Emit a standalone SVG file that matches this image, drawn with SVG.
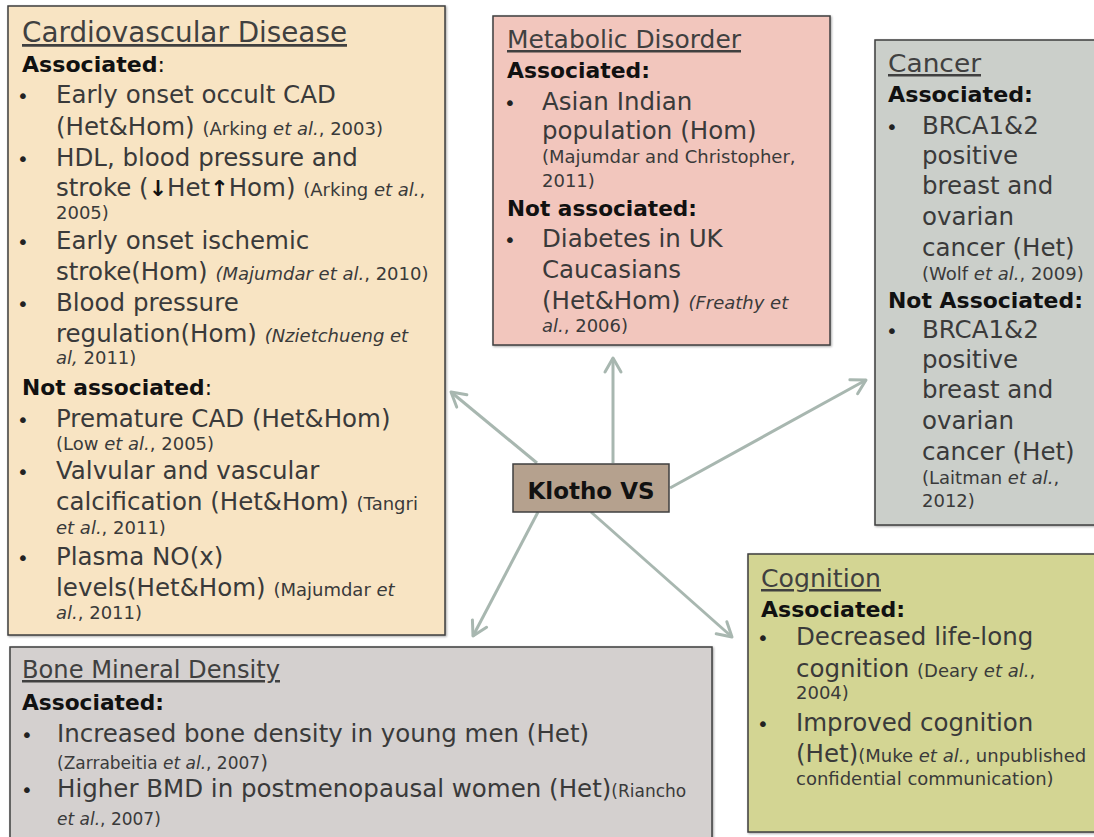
<svg xmlns="http://www.w3.org/2000/svg" width="1094" height="837" viewBox="0 0 1094 837">
<defs>
<filter id="sh" x="-5%" y="-5%" width="110%" height="110%">
<feDropShadow dx="1" dy="1" stdDeviation="1" flood-color="#000" flood-opacity="0.35"/>
</filter>
<marker id="ah" markerUnits="userSpaceOnUse" markerWidth="22" markerHeight="22" viewBox="0 0 22 22" refX="19" refY="11" orient="auto">
<path d="M5,3 L19,11 L5,19" fill="none" stroke="#A8B7B0" stroke-width="3" stroke-linecap="round" stroke-linejoin="round"/>
</marker>
</defs>
<style>
text{font-family:"DejaVu Sans","Liberation Sans",sans-serif;fill:#3a3a3a}
.box{stroke:#3f3f3f;stroke-width:1.5;filter:url(#sh)}
.t{font-size:24.5px}
.h{font-size:25px;text-decoration:underline;fill:#404040}
.b{font-size:21.5px;font-weight:bold;fill:#111}
.n{font-weight:normal}
.c{font-size:18px}
.cs{font-size:17px}
.i{font-style:italic}
.bu{font-size:20px;fill:#222}
.ar{font-weight:bold;font-size:22px;fill:#111}
.k{font-size:23px;font-weight:bold;fill:#111}
.con line{stroke:#A8B7B0;stroke-width:3;marker-end:url(#ah)}
</style>

<g id="connectors" class="con">
<line x1="613" y1="463" x2="613" y2="358"/>
<line x1="537" y1="463" x2="451" y2="392"/>
<line x1="670" y1="488" x2="866" y2="380"/>
<line x1="538" y1="512" x2="473" y2="636"/>
<line x1="591" y1="512" x2="732" y2="637"/>
</g>

<g id="cardiovascular">
<rect class="box" x="8" y="6" width="437" height="629" fill="#F8E4C3"/>
<text class="h" x="22" y="42" textLength="325" lengthAdjust="spacingAndGlyphs" style="font-size:27.5px">Cardiovascular Disease</text>
<text class="b" x="22" y="72" textLength="143" lengthAdjust="spacingAndGlyphs">Associated<tspan class="n">:</tspan></text>
<text class="bu" x="17" y="103">•</text>
<text class="t" x="56" y="103">Early onset occult CAD</text>
<text class="t" x="56" y="135">(Het&amp;Hom) <tspan class="c">(Arking <tspan class="i">et al.</tspan>, 2003)</tspan></text>
<text class="bu" x="17" y="166">•</text>
<text class="t" x="56" y="166">HDL, blood pressure and</text>
<text class="t" x="56" y="196">stroke (<tspan class="ar">↓</tspan>Het<tspan class="ar">↑</tspan>Hom) <tspan class="c">(Arking <tspan class="i">et al.</tspan>,</tspan></text>
<text class="c" x="56" y="219">2005)</text>
<text class="bu" x="17" y="249">•</text>
<text class="t" x="56" y="249">Early onset ischemic</text>
<text class="t" x="56" y="280">stroke(Hom) <tspan class="c i">(Majumdar et al.<tspan style="font-style:normal">, 2010)</tspan></tspan></text>
<text class="bu" x="17" y="311">•</text>
<text class="t" x="56" y="311">Blood pressure</text>
<text class="t" x="56" y="342">regulation(Hom) <tspan class="c i">(Nzietchueng et</tspan></text>
<text class="c" x="56" y="364"><tspan class="i">al,</tspan> 2011)</text>
<text class="b" x="22" y="395" textLength="190" lengthAdjust="spacingAndGlyphs">Not associated<tspan class="n">:</tspan></text>
<text class="bu" x="17" y="427">•</text>
<text class="t" x="56" y="427">Premature CAD (Het&amp;Hom)</text>
<text class="c" x="56" y="450">(Low <tspan class="i">et al.</tspan>, 2005)</text>
<text class="bu" x="17" y="479">•</text>
<text class="t" x="56" y="479">Valvular and vascular</text>
<text class="t" x="56" y="510">calcification (Het&amp;Hom) <tspan class="c">(Tangri</tspan></text>
<text class="c" x="56" y="534"><tspan class="i">et al.</tspan>, 2011)</text>
<text class="bu" x="17" y="565">•</text>
<text class="t" x="56" y="565">Plasma NO(x)</text>
<text class="t" x="56" y="596">levels(Het&amp;Hom)  <tspan class="c">(Majumdar <tspan class="i">et</tspan></tspan></text>
<text class="c" x="56" y="619"><tspan class="i">al.</tspan>, 2011)</text>
</g>

<g id="metabolic">
<rect class="box" x="493" y="16" width="337" height="329" fill="#F2C6BD"/>
<text class="h" x="507" y="48" textLength="234" lengthAdjust="spacingAndGlyphs">Metabolic Disorder</text>
<text class="b" x="507" y="78" textLength="143" lengthAdjust="spacingAndGlyphs">Associated:</text>
<text class="bu" x="504" y="110">•</text>
<text class="t" x="542" y="110">Asian Indian</text>
<text class="t" x="542" y="139">population (Hom)</text>
<text class="c" x="542" y="163">(Majumdar and Christopher,</text>
<text class="c" x="542" y="187">2011)</text>
<text class="b" x="507" y="216" textLength="190" lengthAdjust="spacingAndGlyphs">Not associated:</text>
<text class="bu" x="504" y="247">•</text>
<text class="t" x="542" y="247">Diabetes in UK</text>
<text class="t" x="542" y="278">Caucasians</text>
<text class="t" x="542" y="309">(Het&amp;Hom) <tspan class="c i">(Freathy et</tspan></text>
<text class="c" x="542" y="332"><tspan class="i">al.</tspan>, 2006)</text>
</g>

<g id="cancer">
<rect class="box" x="875" y="40" width="240" height="485" fill="#CBCFCA"/>
<text class="h" x="888" y="72" textLength="93" lengthAdjust="spacingAndGlyphs">Cancer</text>
<text class="b" x="888" y="102" textLength="145" lengthAdjust="spacingAndGlyphs">Associated:</text>
<text class="bu" x="886" y="134">•</text>
<text class="t" x="922" y="134">BRCA1&amp;2</text>
<text class="t" x="922" y="164">positive</text>
<text class="t" x="922" y="194">breast and</text>
<text class="t" x="922" y="225">ovarian</text>
<text class="t" x="922" y="256">cancer (Het)</text>
<text class="c" x="922" y="280">(Wolf <tspan class="i">et al.</tspan>, 2009)</text>
<text class="b" x="888" y="308" textLength="195" lengthAdjust="spacingAndGlyphs">Not Associated:</text>
<text class="bu" x="886" y="338">•</text>
<text class="t" x="922" y="338">BRCA1&amp;2</text>
<text class="t" x="922" y="368">positive</text>
<text class="t" x="922" y="398">breast and</text>
<text class="t" x="922" y="429">ovarian</text>
<text class="t" x="922" y="460">cancer (Het)</text>
<text class="c" x="922" y="484">(Laitman <tspan class="i">et al.</tspan>,</text>
<text class="c" x="922" y="507">2012)</text>
</g>

<g id="bone">
<rect class="box" x="10" y="647" width="702" height="200" fill="#D4D0CF"/>
<text class="h" x="22" y="678" textLength="258" lengthAdjust="spacingAndGlyphs">Bone Mineral Density</text>
<text class="b" x="22" y="710" textLength="142" lengthAdjust="spacingAndGlyphs">Associated:</text>
<text class="bu" x="21" y="742">•</text>
<text class="t" x="57" y="742">Increased bone density in young men (Het)</text>
<text class="cs" x="57" y="769">(Zarrabeitia <tspan class="i">et al.</tspan>, 2007<tspan style="font-size:20px">)</tspan></text>
<text class="bu" x="21" y="797">•</text>
<text class="t" x="57" y="797">Higher BMD in postmenopausal women (Het)<tspan class="cs">(Riancho</tspan></text>
<text class="cs" x="57" y="825"><tspan class="i">et al.</tspan>, 2007)</text>
</g>

<g id="cognition">
<rect class="box" x="748" y="554" width="360" height="278" fill="#D3D593"/>
<text class="h" x="761" y="587" textLength="120" lengthAdjust="spacingAndGlyphs">Cognition</text>
<text class="b" x="761" y="617" textLength="144" lengthAdjust="spacingAndGlyphs">Associated:</text>
<text class="bu" x="757" y="645">•</text>
<text class="t" x="796" y="645">Decreased life-long</text>
<text class="t" x="796" y="677">cognition <tspan class="c">(Deary <tspan class="i">et al.</tspan>,</tspan></text>
<text class="c" x="796" y="699">2004)</text>
<text class="bu" x="757" y="731">•</text>
<text class="t" x="796" y="731">Improved cognition</text>
<text class="t" x="796" y="762">(Het)<tspan class="c">(Muke <tspan class="i">et al.</tspan>, unpublished</tspan></text>
<text class="c" x="796" y="785">confidential communication)</text>
</g>

<g id="klotho">
<rect x="513" y="464" width="156" height="48" fill="#B5A18E" stroke="#3f3f3f" stroke-width="1.5"/>
<text class="k" x="591" y="499" text-anchor="middle">Klotho VS</text>
</g>
</svg>
